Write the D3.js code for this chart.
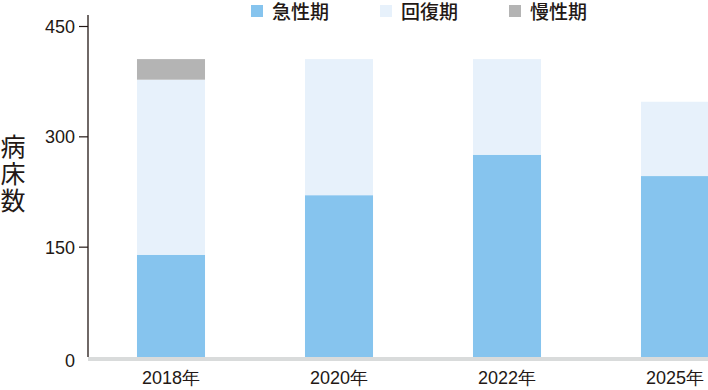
<!DOCTYPE html>
<html><head><meta charset="utf-8">
<script src="https://cdn.jsdelivr.net/npm/d3@7"></script>
<style>
html,body{margin:0;padding:0;background:#fff;}
svg{display:block;}
</style></head>
<body>
<svg id="chart" width="708" height="390"></svg>
<script>
const categories = ["2018年", "2020年", "2022年", "2025年"];
const seriesNames = ["急性期", "回復期", "慢性期"];
const acute = [139, 220, 275, 246];
const recovery = [238, 185, 130, 101];
const chronic = [28, 0, 0, 0];
const yTicks = [0, 150, 300, 450];
const colors = ["#86c4ee", "#e7f1fb", "#b4b4b4"];
const textColor = "#231815";
const jpFont = "'Noto Sans CJK JP', sans-serif";
const numFont = "'Liberation Sans', Arial, sans-serif";

const svg = d3.select("#chart");
const table = categories.map((c, i) => ({cat: c, "急性期": acute[i], "回復期": recovery[i], "慢性期": chronic[i]}));
const stacked = d3.stack().keys(seriesNames)(table);

const x = d3.scaleBand().domain(categories).range([87, 759]).paddingInner(0.595).paddingOuter(0.2975);
const y = d3.scaleLinear().domain([0, 450]).range([357, 26]);

// bars
svg.append("g").selectAll("g").data(stacked).join("g")
  .attr("fill", (d, i) => colors[i])
  .selectAll("rect").data(d => d).join("rect")
  .attr("x", d => x(d.data.cat))
  .attr("width", x.bandwidth())
  .attr("y", d => y(d[1]))
  .attr("height", d => y(d[0]) - y(d[1]));

// baseline
svg.append("rect").attr("x", 88).attr("y", y(0)).attr("width", 620).attr("height", 4).attr("fill", "#d9dbdb");

// y axis
const yAxis = d3.axisLeft(y).tickValues(yTicks).tickSize(9).tickPadding(4).tickFormat(d3.format("d"));
const ga = svg.append("g").attr("transform", "translate(88,0)").call(yAxis);
ga.select(".domain").remove();
ga.append("line").attr("x1", 0).attr("x2", 0).attr("y1", 15).attr("y2", 357).attr("stroke", textColor).attr("stroke-width", 1.3);
ga.selectAll(".tick line").attr("stroke", textColor).attr("stroke-width", 1.2)
  .attr("display", d => d === 0 ? "none" : null);
ga.selectAll(".tick text").attr("fill", textColor).attr("font-family", numFont).attr("font-size", 18)
  .attr("dy", "0.36em");
ga.selectAll(".tick").filter(d => d === 0).select("text").attr("dy", "0.5em");

// x axis
const xAxis = d3.axisBottom(x).tickSize(0).tickPadding(0);
const gx = svg.append("g").attr("transform", "translate(0,370)").call(xAxis);
gx.select(".domain").remove();
gx.selectAll(".tick text").attr("fill", textColor).attr("font-family", numFont).attr("font-size", 18)
  .attr("dy", "0.75em");

// axis title (vertical)
svg.append("text")
  .attr("x", 13).attr("y", 134)
  .attr("writing-mode", "vertical-rl")
  .style("writing-mode", "vertical-rl")
  .attr("letter-spacing", 2)
  .attr("font-family", jpFont).attr("font-size", 25)
  .attr("fill", textColor).text("病床数");

// legend
const legendX = [251, 380, 509];
const lg = svg.append("g").selectAll("g").data(seriesNames).join("g")
  .attr("transform", (d, i) => `translate(${legendX[i]},0)`);
lg.append("rect").attr("x", 0).attr("y", 5).attr("width", 12).attr("height", 12)
  .attr("fill", (d, i) => colors[i]);
lg.append("text").attr("x", 21).attr("y", 19)
  .attr("font-family", jpFont).attr("font-size", 19).attr("font-weight", 500)
  .attr("fill", textColor).text(d => d);
</script>
</body></html>
